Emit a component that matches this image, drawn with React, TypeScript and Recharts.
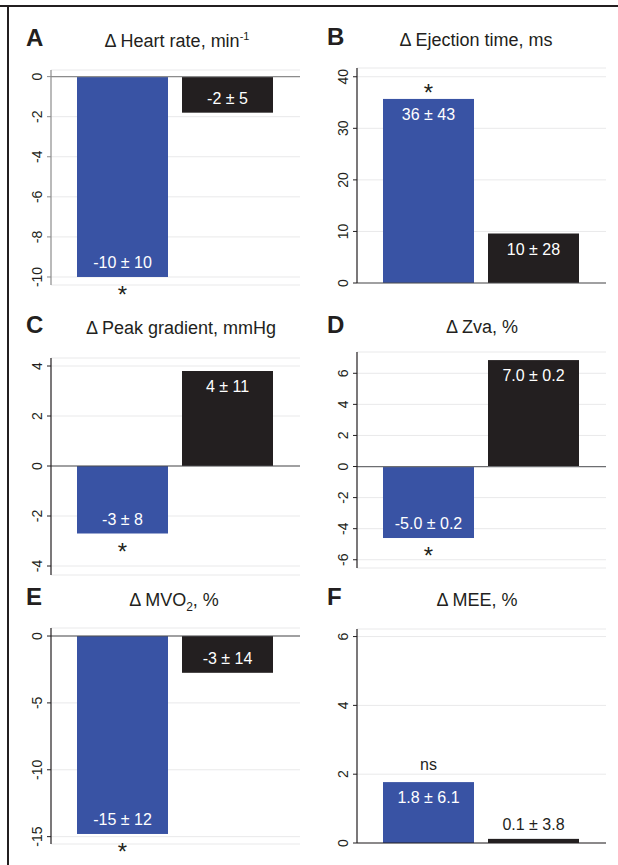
import React from "react";
import { BarChart, Bar, XAxis, YAxis, CartesianGrid, ReferenceLine, Cell } from "recharts";

const FONT = '"Liberation Sans", Arial, sans-serif';
const BLUE = "#3953a4";
const DARK = "#231f20";
const GROUP_COLORS = [BLUE, DARK];

const groups = ["Group 1", "Group 2"];

// A: heart rate
const heartRate = [-10, -1.8];
const heartRateLabels = ["-10 ± 10", "-2 ± 5"];
const heartRateNotes = ["*", ""];
const heartRateTicks = [0, -2, -4, -6, -8, -10];

// B: ejection time
const ejectionTime = [35.7, 9.6];
const ejectionTimeLabels = ["36 ± 43", "10 ± 28"];
const ejectionTimeNotes = ["*", ""];
const ejectionTimeTicks = [0, 10, 20, 30, 40];

// C: peak gradient
const peakGradient = [-2.7, 3.8];
const peakGradientLabels = ["-3 ± 8", "4 ± 11"];
const peakGradientNotes = ["*", ""];
const peakGradientTicks = [-4, -2, 0, 2, 4];

// D: Zva
const zva = [-4.6, 6.85];
const zvaLabels = ["-5.0 ± 0.2", "7.0 ± 0.2"];
const zvaNotes = ["*", ""];
const zvaTicks = [-6, -4, -2, 0, 2, 4, 6];

// E: MVO2
const mvo2 = [-14.8, -2.75];
const mvo2Labels = ["-15 ± 12", "-3 ± 14"];
const mvo2Notes = ["*", ""];
const mvo2Ticks = [-15, -10, -5, 0];

// F: MEE
const mee = [1.77, 0.12];
const meeLabels = ["1.8 ± 6.1", "0.1 ± 3.8"];
const meeNotes = ["ns", ""];
const meeTicks = [0, 2, 4, 6];

const rowsFor = (values: number[], labels: string[], notes: string[]) =>
  groups.map((g, i) => ({ group: g, value: values[i], label: labels[i], note: notes[i] }));

const panels = [
  { letter: "A", title: <>Δ Heart rate, min<tspan fontSize={11} dy={-7}>-1</tspan></>, titleX: 177, titleY: 47, letterY: 46,
    rows: rowsFor(heartRate, heartRateLabels, heartRateNotes), ticks: heartRateTicks, domain: [-10.4, 0.33],
    left: 0, top: 0, height: 305, plotTop: 70, plotBottom: 285, axis: "#8c8c8c", zero: "#8c8c8c" },
  { letter: "B", title: <>Δ Ejection time, ms</>, titleX: 476, titleY: 46, letterY: 45,
    rows: rowsFor(ejectionTime, ejectionTimeLabels, ejectionTimeNotes), ticks: ejectionTimeTicks, domain: [0, 41.7],
    left: 306, top: 0, height: 305, plotTop: 68, plotBottom: 283, axis: DARK, zero: "#4d4d4f" },
  { letter: "C", title: <>Δ Peak gradient, mmHg</>, titleX: 181, titleY: 334, letterY: 333,
    rows: rowsFor(peakGradient, peakGradientLabels, peakGradientNotes), ticks: peakGradientTicks, domain: [-4.36, 4.32],
    left: 0, top: 290, height: 290, plotTop: 358, plotBottom: 575, axis: DARK, zero: "#4d4d4f" },
  { letter: "D", title: <>Δ Zva, %</>, titleX: 482, titleY: 333, letterY: 333,
    rows: rowsFor(zva, zvaLabels, zvaNotes), ticks: zvaTicks, domain: [-6.53, 7.37],
    left: 306, top: 290, height: 290, plotTop: 352, plotBottom: 568, axis: DARK, zero: "#6d6e71" },
  { letter: "E", title: <>Δ MVO<tspan fontSize={12} dy={5}>2</tspan><tspan dy={-5}>, %</tspan></>, titleX: 174, titleY: 606, letterY: 605,
    rows: rowsFor(mvo2, mvo2Labels, mvo2Notes), ticks: mvo2Ticks, domain: [-15.55, 0.6],
    left: 0, top: 570, height: 295, plotTop: 628, plotBottom: 844, axis: DARK, zero: "#4d4d4f" },
  { letter: "F", title: <>Δ MEE, %</>, titleX: 477, titleY: 606, letterY: 605,
    rows: rowsFor(mee, meeLabels, meeNotes), ticks: meeTicks, domain: [0, 6.22],
    left: 306, top: 570, height: 295, plotTop: 629, plotBottom: 843, axis: DARK, zero: DARK },
];

const RotatedTick = (props: any) => {
  const { x, y, payload } = props;
  return (
    <g transform={`translate(${x - 3},${y}) rotate(-90)`}>
      <text x={0} y={0} textAnchor="middle" fontSize={14} fill={DARK} fontFamily={FONT}>
        {payload.value}
      </text>
    </g>
  );
};

const BarWithText = (props: any) => {
  const { x, y, width, height, fill, payload } = props;
  const top = Math.min(y, y + height);
  const bottom = Math.max(y, y + height);
  const h = bottom - top;
  const cx = x + width / 2;
  const neg = payload.value < 0;
  let labelY: number;
  let labelColor = "#fff";
  if (h < 25) {
    labelY = neg ? bottom + 21 : top - 9;
    labelColor = DARK;
  } else {
    labelY = neg ? bottom - 9 : top + 21;
  }
  let note = null;
  if (payload.note === "*") {
    const c = neg ? bottom + 12.5 : top - 11.5;
    note = <text x={cx} y={c + 13.7} textAnchor="middle" fontSize={24} fill={DARK} fontFamily={FONT}>*</text>;
  } else if (payload.note) {
    note = <text x={cx} y={neg ? bottom + 24 : top - 12} textAnchor="middle" fontSize={16} fill={DARK} fontFamily={FONT}>{payload.note}</text>;
  }
  return (
    <g>
      <rect x={x} y={top} width={width} height={h} fill={fill} />
      <text x={cx} y={labelY} textAnchor="middle" fontSize={16} fill={labelColor} fontFamily={FONT}>{payload.label}</text>
      {note}
    </g>
  );
};

function Panel({ p }: { p: (typeof panels)[number] }) {
  return (
    <div style={{ position: "absolute", left: p.left, top: p.top }}>
      <BarChart width={310} height={p.height} data={p.rows}
        margin={{ top: p.plotTop - p.top, right: 10, bottom: p.top + p.height - p.plotBottom, left: 0 }}>
        <CartesianGrid vertical={false} stroke="#e9e9ea" />
        <XAxis dataKey="group" hide padding={{ left: 19, right: 20 }} />
        <YAxis type="number" domain={p.domain} ticks={p.ticks} width={51} interval={0}
          tickSize={4} tick={<RotatedTick />}
          axisLine={{ stroke: p.axis, strokeWidth: 1.2 }} tickLine={{ stroke: p.axis }} />
        <ReferenceLine y={0} stroke={p.zero} strokeWidth={1.2} />
        <Bar dataKey="value" barSize={91} isAnimationActive={false} shape={<BarWithText />}>
          {p.rows.map((r, i) => <Cell key={r.group} fill={GROUP_COLORS[i]} />)}
        </Bar>
      </BarChart>
    </div>
  );
}

export default function App() {
  return (
    <div style={{ position: "absolute", left: 0, top: 0, width: 618, height: 865, background: "#fff", fontFamily: FONT, overflow: "hidden" }}>
      <div style={{ position: "absolute", left: 0, top: 5, width: 618, height: 2, background: DARK }} />
      <div style={{ position: "absolute", left: 7, top: 5, width: 2, height: 860, background: DARK }} />
      {panels.map((p) => <Panel key={p.letter} p={p} />)}
      <svg width={618} height={865} style={{ position: "absolute", left: 0, top: 0, pointerEvents: "none" }}>
        {panels.map((p) => (
          <g key={p.letter}>
            <text x={p.left === 0 ? 26 : 327} y={p.letterY} fontSize={24} fontWeight="bold" fill={DARK} fontFamily={FONT}>{p.letter}</text>
            <text x={p.titleX} y={p.titleY} textAnchor="middle" fontSize={18} fill={DARK} fontFamily={FONT}>{p.title}</text>
          </g>
        ))}
      </svg>
    </div>
  );
}
